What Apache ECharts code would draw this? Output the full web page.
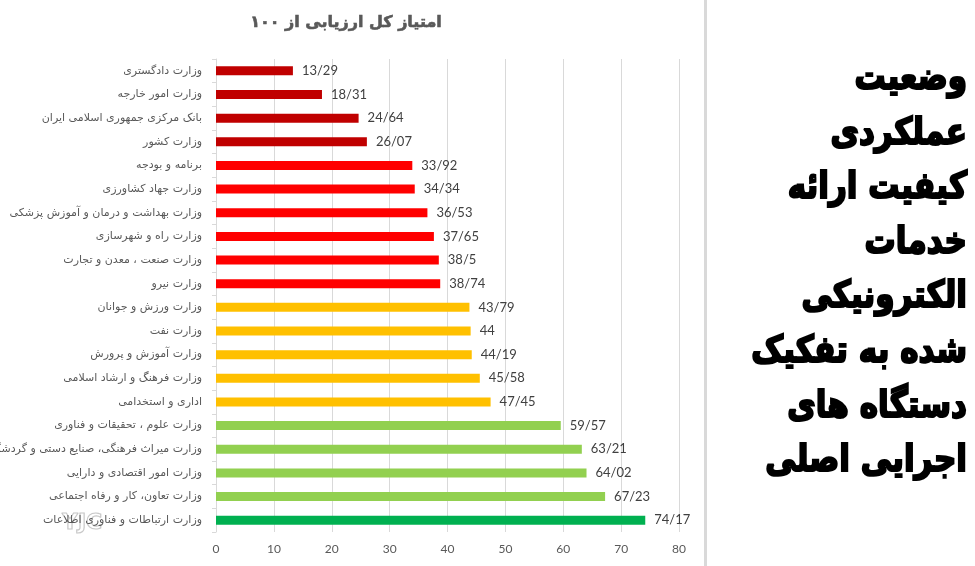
<!DOCTYPE html>
<html>
<head>
<meta charset="utf-8">
<script src="https://cdn.jsdelivr.net/npm/echarts@6/dist/echarts.min.js"></script>
<style>html,body{margin:0;padding:0;background:#fff}#c{width:975px;height:566px}</style>
</head>
<body>
<div id="c"></div>
<script>
const categories = [
  'وزارت دادگستری',
  'وزارت امور خارجه',
  'بانک مرکزی جمهوری اسلامی ایران',
  'وزارت کشور',
  'برنامه و بودجه',
  'وزارت جهاد کشاورزی',
  'وزارت بهداشت و درمان و آموزش پزشکی',
  'وزارت راه و شهرسازی',
  'وزارت صنعت ، معدن و تجارت',
  'وزارت نیرو',
  'وزارت ورزش و جوانان',
  'وزارت نفت',
  'وزارت آموزش و پرورش',
  'وزارت فرهنگ و ارشاد اسلامی',
  'اداری و استخدامی',
  'وزارت علوم ، تحقیقات و فناوری',
  'وزارت میراث فرهنگی، صنایع دستی و گردشگری',
  'وزارت امور اقتصادی و دارایی',
  'وزارت تعاون، کار و رفاه اجتماعی',
  'وزارت ارتباطات و فناوری اطلاعات'
];
const scores = [13.29, 18.31, 24.64, 26.07, 33.92, 34.34, 36.53, 37.65, 38.5, 38.74,
  43.79, 44, 44.19, 45.58, 47.45, 59.57, 63.21, 64.02, 67.23, 74.17];
const barColors = ['#C00000','#C00000','#C00000','#C00000',
  '#FF0000','#FF0000','#FF0000','#FF0000','#FF0000','#FF0000',
  '#FFC000','#FFC000','#FFC000','#FFC000','#FFC000',
  '#92D050','#92D050','#92D050','#92D050',
  '#00B050'];
const chartTitle = 'امتیاز کل ارزیابی از ۱۰۰';
const sideTitleLines = ['وضعیت','عملکردی','کیفیت ارائه','خدمات','الکترونیکی','شده به تفکیک','دستگاه های','اجرایی اصلی'];
const watermark = 'YJC';
const xTicks = {min: 0, max: 80, interval: 10};

const chart = echarts.init(document.getElementById('c'), null, {renderer: 'canvas'});
const arabicFont = '"DejaVu Sans", "Noto Sans", sans-serif';
chart.setOption({
  animation: false,
  backgroundColor: '#fff',
  title: {
    text: chartTitle,
    left: 341,
    top: 10,
    textAlign: 'center',
    textStyle: {fontSize: 16, fontWeight: 'bold', color: '#595959', fontFamily: arabicFont,
      textBorderColor: '#595959', textBorderWidth: 0.6}
  },
  graphic: [
    {type: 'rect', left: 704, top: 0, shape: {width: 3, height: 566}, style: {fill: '#d9d9d9'}, silent: true},
    {type: 'text', x: 967, y: 52, scaleX: 0.84, style: {
      text: sideTitleLines.join('\n'), align: 'right', verticalAlign: 'top', fill: '#000',
      stroke: '#000', lineWidth: 2.2,
      font: 'bold 37px "DejaVu Sans", sans-serif', lineHeight: 54.6
    }, silent: true},
    {type: 'text', x: 62, y: 512, style: {
      text: watermark, fill: 'rgba(255,255,255,0)', stroke: '#c8c8c8', lineWidth: 1.2,
      font: 'bold 22px "DejaVu Sans", sans-serif'
    }, silent: true}
  ],
  grid: {left: 216, right: 296, top: 59, bottom: 34, containLabel: false, outerBoundsMode: 'none'},
  xAxis: {
    type: 'value', min: xTicks.min, max: xTicks.max, interval: xTicks.interval,
    axisLine: {show: false}, axisTick: {show: false},
    splitLine: {lineStyle: {color: '#d9d9d9', width: 1}},
    axisLabel: {color: '#595959', fontSize: 12, margin: 11, fontFamily: 'Lato, "DejaVu Sans", sans-serif'}
  },
  yAxis: {
    type: 'category', data: categories, inverse: true,
    axisLine: {lineStyle: {color: '#d9d9d9'}},
    axisTick: {show: true, length: 4, lineStyle: {color: '#d9d9d9'}},
    axisLabel: {color: '#595959', fontSize: 11, margin: 14, fontFamily: arabicFont}
  },
  series: [{
    type: 'bar',
    data: scores.map((v, i) => ({value: v, itemStyle: {color: barColors[i]}})),
    barWidth: 9,
    label: {
      show: true, position: 'right', distance: 9, color: '#404040', fontSize: 13,
      fontFamily: 'Lato, "DejaVu Sans", sans-serif',
      formatter: p => String(p.value).replace('.', '/')
    }
  }]
});
</script>
</body>
</html>
